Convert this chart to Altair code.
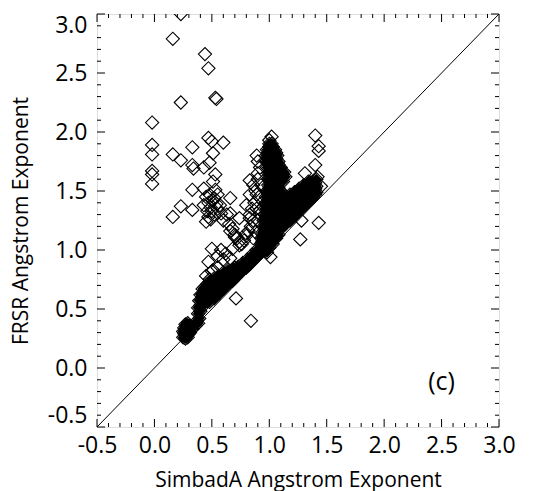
import altair as alt
import pandas as pd

# ---------------- data ----------------
# isolated / sparse points (SimbadA, FRSR)
outliers = [
    (0.23, 3.00), (0.16, 2.79), (0.44, 2.66), (0.47, 2.54), (0.53, 2.29), (0.54, 2.28), (0.23, 2.25),
    (-0.02, 2.08), (-0.02, 1.89), (-0.02, 1.81), (-0.02, 1.67), (-0.02, 1.64), (-0.02, 1.56),
    (0.16, 1.81), (0.23, 1.76), (0.33, 1.87), (0.33, 1.72), (0.34, 1.69), (0.33, 1.51), (0.33, 1.34),
    (0.23, 1.37), (0.16, 1.28),
    (0.47, 1.95), (0.50, 1.92), (0.60, 1.91), (0.51, 1.82), (0.48, 1.74), (0.43, 1.70), (0.53, 1.64),
    (0.51, 1.58), (0.43, 1.52), (0.53, 1.51), (0.45, 1.45), (0.51, 1.42), (0.43, 1.38), (0.57, 1.38),
    (0.47, 1.28), (0.45, 1.24),
    (0.66, 1.44), (0.66, 1.31), (0.60, 1.25), (0.66, 1.16), (0.74, 1.27), (0.70, 1.11), (0.74, 1.04),
    (0.68, 1.01), (0.50, 1.01), (0.47, 0.90), (0.51, 0.83),
    (0.80, 1.14), (0.83, 1.27), (0.83, 1.47), (0.83, 1.59), (0.80, 1.38), (0.89, 1.47), (0.90, 1.65),
    (0.89, 1.80), (0.92, 1.34),
    (0.84, 0.40), (0.71, 0.59), (1.01, 0.94), (1.27, 1.09), (1.43, 1.23),
    (1.40, 1.97), (1.43, 1.88), (1.43, 1.84), (1.40, 1.72), (1.31, 1.65), (1.42, 1.62), (1.45, 1.54),
    (1.28, 1.25), (1.02, 1.96), (1.00, 1.93),
]

# semi-dense group around (0.5, 1.4) and the chain down to the main band
cluster = [
    (0.47, 1.40), (0.49, 1.36), (0.52, 1.44), (0.50, 1.33), (0.54, 1.39), (0.48, 1.47), (0.55, 1.35),
    (0.52, 1.30), (0.46, 1.33), (0.49, 1.26), (0.55, 1.47), (0.58, 1.31),
    (0.63, 1.30), (0.65, 1.22), (0.68, 1.18), (0.70, 1.13), (0.72, 1.10), (0.74, 1.07), (0.76, 1.05),
    (0.78, 1.08), (0.80, 1.12), (0.82, 1.16), (0.84, 1.20), (0.86, 1.25), (0.83, 1.30), (0.85, 1.35),
    (0.87, 1.40), (0.88, 1.50), (0.86, 1.55), (0.90, 1.60), (0.92, 1.70), (0.90, 1.75), (0.93, 1.55),
    (0.91, 1.45), (0.89, 1.35), (0.90, 1.25), (0.88, 1.15), (0.86, 1.10),
    (0.55, 0.95), (0.58, 1.00), (0.60, 0.92), (0.62, 0.97), (0.66, 0.93),
    (0.45, 0.78), (0.50, 0.82), (0.55, 0.85), (0.48, 0.75),
]

# lowest blob and steep rise
low_blob = [
    (0.25, 0.26), (0.27, 0.25), (0.29, 0.26), (0.26, 0.29), (0.28, 0.29), (0.30, 0.29), (0.25, 0.31),
    (0.27, 0.32), (0.29, 0.32), (0.26, 0.34), (0.28, 0.35), (0.30, 0.33), (0.27, 0.37), (0.29, 0.38),
    (0.31, 0.36), (0.31, 0.30), (0.33, 0.33), (0.36, 0.36), (0.38, 0.38),
    (0.37, 0.40), (0.39, 0.42), (0.38, 0.46), (0.40, 0.48), (0.38, 0.51), (0.40, 0.53), (0.39, 0.57),
    (0.41, 0.58), (0.40, 0.62), (0.42, 0.63), (0.42, 0.67), (0.44, 0.69),
]

# main band just above the 1:1 line
band = [
    (0.44, 0.54), (0.44, 0.60), (0.45, 0.66), (0.46, 0.71),
    (0.48, 0.56), (0.48, 0.62), (0.49, 0.68), (0.48, 0.73),
    (0.52, 0.59), (0.52, 0.65), (0.53, 0.71), (0.52, 0.76),
    (0.56, 0.63), (0.56, 0.68), (0.57, 0.74), (0.56, 0.78),
    (0.60, 0.67), (0.60, 0.72), (0.61, 0.77), (0.60, 0.81),
    (0.64, 0.71), (0.64, 0.75), (0.65, 0.80), (0.64, 0.83),
    (0.68, 0.74), (0.68, 0.78), (0.69, 0.83),
    (0.72, 0.78), (0.72, 0.82), (0.73, 0.86),
    (0.76, 0.82), (0.76, 0.86), (0.77, 0.89),
    (0.80, 0.85), (0.80, 0.89), (0.81, 0.92),
    (0.84, 0.89), (0.84, 0.93), (0.85, 0.96),
    (0.88, 0.93), (0.88, 0.97), (0.89, 1.00),
    (0.92, 0.97), (0.92, 1.01), (0.93, 1.05),
    (0.46, 0.57), (0.46, 0.63), (0.50, 0.60), (0.50, 0.66), (0.50, 0.72), (0.54, 0.62), (0.54, 0.68),
    (0.54, 0.74), (0.58, 0.66), (0.58, 0.71), (0.58, 0.77), (0.62, 0.69), (0.62, 0.74), (0.62, 0.79),
    (0.66, 0.73), (0.66, 0.77), (0.66, 0.82), (0.70, 0.76), (0.70, 0.80), (0.70, 0.85), (0.74, 0.80),
    (0.74, 0.84), (0.78, 0.84), (0.78, 0.87), (0.82, 0.87), (0.82, 0.91), (0.86, 0.91), (0.86, 0.95),
    (0.90, 0.95), (0.90, 0.99), (0.94, 0.99), (0.94, 1.03),
    (0.96, 1.00), (0.98, 0.98), (1.00, 1.02), (1.03, 1.05), (1.06, 1.10), (1.08, 1.13),
]

# upward arm near SimbadA = 1
arm = [
    (1.00, 1.90), (1.02, 1.90),
    (0.98, 1.85), (1.02, 1.85), (1.05, 1.85),
    (0.97, 1.80), (1.00, 1.80), (1.04, 1.80), (1.07, 1.80),
    (0.97, 1.75), (1.00, 1.75), (1.04, 1.75), (1.08, 1.75),
    (0.98, 1.70), (1.02, 1.70), (1.06, 1.70), (1.10, 1.70),
    (0.99, 1.65), (1.03, 1.65), (1.07, 1.65), (1.11, 1.65),
    (0.99, 1.60), (1.03, 1.60), (1.07, 1.60), (1.10, 1.60),
    (0.99, 1.55), (1.03, 1.55), (1.07, 1.55),
    (0.98, 1.50), (1.02, 1.50), (1.06, 1.50), (1.10, 1.50),
    (0.97, 1.45), (1.01, 1.45), (1.05, 1.45), (1.09, 1.45),
    (0.97, 1.40), (1.01, 1.40), (1.05, 1.40), (1.09, 1.40),
    (0.96, 1.35), (1.00, 1.35), (1.04, 1.35), (1.08, 1.35),
    (0.96, 1.30), (1.00, 1.30), (1.04, 1.30), (1.08, 1.30),
    (0.95, 1.25), (0.99, 1.25), (1.03, 1.25), (1.07, 1.25),
    (0.95, 1.20), (0.99, 1.20), (1.03, 1.20),
    (0.94, 1.15), (0.98, 1.15), (1.02, 1.15),
    (0.93, 1.10), (0.97, 1.10), (1.01, 1.10),
    (0.96, 1.05), (1.00, 1.05),
    (1.00, 1.875), (1.03, 1.875),
    (0.99, 1.825), (1.03, 1.825), (1.06, 1.825),
    (0.99, 1.775), (1.02, 1.775), (1.06, 1.775),
    (1.00, 1.725), (1.04, 1.725), (1.08, 1.725),
    (1.01, 1.675), (1.05, 1.675), (1.09, 1.675),
    (1.01, 1.625), (1.05, 1.625), (1.09, 1.625),
    (1.01, 1.575), (1.05, 1.575),
    (1.00, 1.525), (1.04, 1.525), (1.08, 1.525),
    (0.99, 1.475), (1.03, 1.475), (1.07, 1.475),
    (0.99, 1.425), (1.03, 1.425), (1.07, 1.425),
    (0.98, 1.375), (1.02, 1.375), (1.06, 1.375),
    (0.98, 1.325), (1.02, 1.325), (1.06, 1.325),
    (0.97, 1.275), (1.01, 1.275), (1.05, 1.275),
    (0.97, 1.225), (1.01, 1.225), (1.05, 1.225),
    (0.96, 1.175), (1.00, 1.175), (1.04, 1.175),
    (0.95, 1.125), (0.99, 1.125), (1.03, 1.125),
    (0.94, 1.075), (0.98, 1.075), (1.02, 1.075),
    (1.13, 1.66), (1.14, 1.62), (1.12, 1.58),
]

# right-hand lobe close to the 1:1 line
right_blob = [
    (1.10, 1.18), (1.10, 1.24), (1.10, 1.30), (1.10, 1.36), (1.10, 1.42),
    (1.14, 1.22), (1.14, 1.28), (1.14, 1.34), (1.14, 1.40), (1.14, 1.45),
    (1.18, 1.25), (1.18, 1.31), (1.18, 1.37), (1.18, 1.43), (1.18, 1.47),
    (1.22, 1.29), (1.22, 1.34), (1.22, 1.40), (1.22, 1.46), (1.22, 1.49),
    (1.26, 1.33), (1.26, 1.38), (1.26, 1.43), (1.26, 1.48), (1.26, 1.52),
    (1.30, 1.37), (1.30, 1.42), (1.30, 1.47), (1.30, 1.52), (1.30, 1.55),
    (1.34, 1.41), (1.34, 1.46), (1.34, 1.50), (1.34, 1.55), (1.34, 1.58),
    (1.38, 1.45), (1.38, 1.50), (1.38, 1.54), (1.38, 1.58),
    (1.41, 1.49), (1.41, 1.54), (1.41, 1.60),
    (1.12, 1.21), (1.12, 1.27), (1.12, 1.33), (1.12, 1.39), (1.12, 1.44),
    (1.16, 1.24), (1.16, 1.30), (1.16, 1.36), (1.16, 1.42),
    (1.20, 1.27), (1.20, 1.33), (1.20, 1.39), (1.20, 1.45),
    (1.24, 1.31), (1.24, 1.37), (1.24, 1.43), (1.24, 1.49),
    (1.28, 1.35), (1.28, 1.41), (1.28, 1.46), (1.28, 1.51),
    (1.32, 1.39), (1.32, 1.44), (1.32, 1.49), (1.32, 1.54),
    (1.36, 1.43), (1.36, 1.48), (1.36, 1.53), (1.36, 1.57),
    (1.40, 1.47), (1.40, 1.52), (1.40, 1.57),
]

diag_x = [-0.5, 3.0]
diag_y = [-0.5, 3.0]

major_ticks = [-0.5, 0.0, 0.5, 1.0, 1.5, 2.0, 2.5, 3.0]
minor_ticks = [-0.4, -0.3, -0.2, -0.1, 0.1, 0.2, 0.3, 0.4, 0.6, 0.7, 0.8, 0.9,
               1.1, 1.2, 1.3, 1.4, 1.6, 1.7, 1.8, 1.9, 2.1, 2.2, 2.3, 2.4,
               2.6, 2.7, 2.8, 2.9]

panel_label = ["(c)"]
panel_x = [2.50]
panel_y = [-0.12]

x_title = "SimbadA Angstrom Exponent"
y_title = "FRSR Angstrom Exponent"

# ---------------- chart ----------------
W, H = 402, 413
FONT = "Open Sans"
DOM = [-0.5, 3.0]

sparse = pd.DataFrame(outliers + cluster, columns=["sx", "sy"])
dense = pd.DataFrame(low_blob + band + arm + right_blob, columns=["sx", "sy"])

xs = alt.Scale(domain=DOM, nice=False, zero=False)
ys = alt.Scale(domain=DOM, nice=False, zero=False)

label_expr = "datum.value < 0 ? '-' + format(-datum.value, '.1f') : format(datum.value, '.1f')"

x_axis = alt.Axis(values=major_ticks, labelExpr=label_expr, grid=False, ticks=False, domain=False,
                  labelFont=FONT, labelFontSize=23, labelColor="black", labelPadding=7,
                  titleFont=FONT, titleFontSize=21, titleFontWeight="normal",
                  titleColor="black", titlePadding=12, labelFlush=False, labelOverlap=False)
y_axis = alt.Axis(values=major_ticks, labelExpr=label_expr, grid=False, ticks=False, domain=False,
                  labelFont=FONT, labelFontSize=23, labelColor="black", labelPadding=10,
                  titleFont=FONT, titleFontSize=21, titleFontWeight="normal",
                  titleColor="black", titlePadding=16, labelFlush=True, labelOverlap=False)


def X(field):
    return alt.X(field, scale=xs, axis=x_axis, title=x_title)


def Y(field):
    return alt.Y(field, scale=ys, axis=y_axis, title=y_title)


outline = dict(shape="diamond", filled=False, color="black", strokeWidth=1.1, size=175,
               opacity=1, clip=True)

sparse_layer = alt.Chart(sparse).mark_point(**outline).encode(x=X("sx:Q"), y=Y("sy:Q"))
dense_fill = alt.Chart(dense).mark_point(
    shape="diamond", filled=True, color="black", size=120, opacity=1, clip=True
).encode(x=X("sx:Q"), y=Y("sy:Q"))
dense_layer = alt.Chart(dense).mark_point(**outline).encode(x=X("sx:Q"), y=Y("sy:Q"))

diag = alt.Chart(pd.DataFrame({"dx": diag_x, "dy": diag_y})).mark_line(
    color="black", strokeWidth=1
).encode(x=X("dx:Q"), y=Y("dy:Q"))


def tick_layers(values, length):
    df = pd.DataFrame({"t": values})
    base = alt.Chart(df).mark_rule(color="black", strokeWidth=1)
    bottom = base.encode(x=X("t:Q"), y=alt.value(H), y2=alt.value(H - length))
    top = base.encode(x=X("t:Q"), y=alt.value(0), y2=alt.value(length))
    left = base.encode(y=Y("t:Q"), x=alt.value(0), x2=alt.value(length))
    right = base.encode(y=Y("t:Q"), x=alt.value(W), x2=alt.value(W - length))
    return [bottom, top, left, right]


label = alt.Chart(pd.DataFrame({"lx": panel_x, "ly": panel_y, "txt": panel_label})).mark_text(
    font=FONT, fontSize=25, color="black"
).encode(x=X("lx:Q"), y=Y("ly:Q"), text="txt:N")

chart = alt.layer(
    diag, sparse_layer, dense_fill, dense_layer,
    *tick_layers(major_ticks, 8), *tick_layers(minor_ticks, 4), label
).properties(
    width=W, height=H,
    autosize=alt.AutoSizeParams(type="none"),
    padding={"left": 97, "top": 14, "right": 40, "bottom": 64},
).configure_view(
    stroke="black", strokeWidth=1
).configure(background="white")

chart.save("out.html", embed_options={"renderer": "svg", "actions": False})
